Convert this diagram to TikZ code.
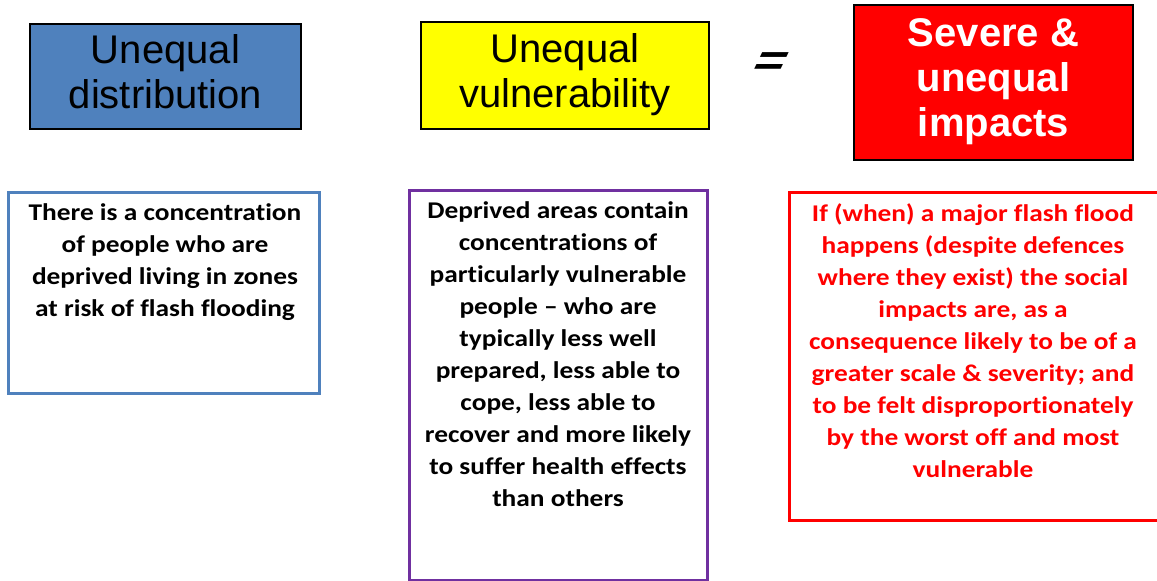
\documentclass[tikz,border=0pt]{standalone}
\usepackage{fontspec}
\setmainfont{Liberation Sans}
\newfontfamily\bodyfont{Carlito}[FakeStretch=1.14,Ligatures={NoCommon}]
\definecolor{hdblue}{HTML}{4F81BD}
\definecolor{hdyellow}{HTML}{FFFF00}
\definecolor{hdred}{HTML}{FF0000}
\definecolor{hdpurple}{HTML}{7030A0}
\begin{document}
\begin{tikzpicture}[x=1pt,y=-1pt,
  headbox/.style={draw=black,line width=2pt,inner sep=0pt,align=center,
    font=\fontsize{40}{45}\selectfont},
  textbox/.style={line width=3pt,inner sep=0pt,fill=white},
  bodytext/.style={anchor=north,align=center,inner sep=0pt,
    font=\bodyfont\bfseries\fontsize{24}{32}\selectfont}]
\useasboundingbox (0,0) rectangle (1157,581);
\fill[white] (0,0) rectangle (1157,581);
% header boxes
\node[headbox,fill=hdblue,minimum width=271pt,minimum height=105pt] (h1) at (165.5,76.5) {};
\node[font=\fontsize{40}{45}\selectfont,align=center] (h1t) at (165.5,72) {Unequal\\distribution};
\node[headbox,fill=hdyellow,minimum width=288pt,minimum height=107pt] (h2) at (565,75.5) {};
\node[font=\fontsize{40}{45}\selectfont,align=center] (h2t) at (565,75) {Unequal\\vulnerability};
\node[font=\bfseries\fontsize{44}{44}\selectfont,xscale=1.2,xslant=0.4] (eq) at (770,64) {=};
\node[headbox,fill=hdred,minimum width=279pt,minimum height=155pt] (h3) at (993.5,82.5) {};
\node[font=\bfseries\fontsize{40}{45}\selectfont,align=center,text=white] (h3t) at (993.5,82) {Severe \&\\unequal\\impacts};
% lower boxes
\begin{scope}
\clip (0,0) rectangle (1157,581);
\node[textbox,draw=hdblue,minimum width=311pt,minimum height=201pt] (b1) at (163.5,292.5) {};
\node[textbox,draw=hdpurple,minimum width=298pt,minimum height=390pt] (b2) at (558,385) {};
\node[textbox,draw=hdred,minimum width=372pt,minimum height=328pt] (b3) at (975,356) {};
\end{scope}
\node[bodytext] (t1) at (165,203) {There is a concentration\\of people who are\\deprived living in zones\\at risk of flash flooding};
\node[bodytext] (t2) at (558,201) {Deprived areas contain\\concentrations of\\particularly vulnerable\\people – who are\\typically less well\\prepared, less able to\\cope, less able to\\recover and more likely\\to suffer health effects\\than others};
\node[bodytext,text=hdred] (t3) at (973,203) {If (when) a major flash flood\\happens (despite defences\\where they exist) the social\\impacts are, as a\\consequence likely to be of a\\greater scale \& severity; and\\to be felt disproportionately\\by the worst off and most\\vulnerable};
\end{tikzpicture}
\end{document}
